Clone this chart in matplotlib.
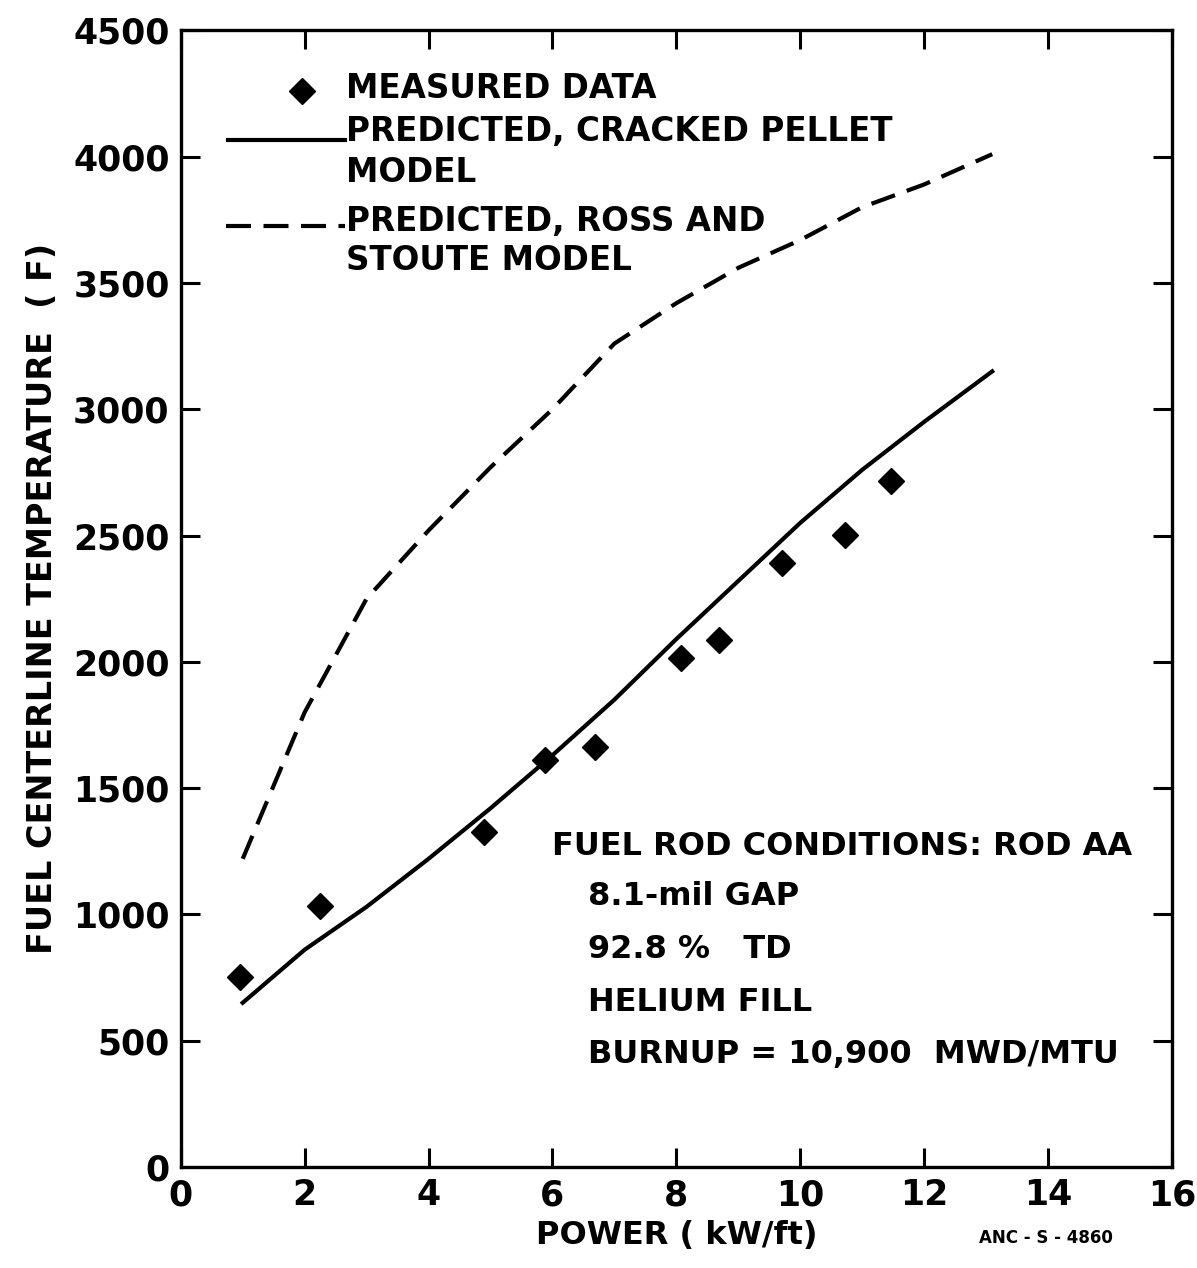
import matplotlib
matplotlib.use('Agg')
import matplotlib.pyplot as plt

# measured fuel centerline temperatures
power_meas = [0.96, 2.24, 4.89, 5.88, 6.68, 8.08, 8.69, 9.71, 10.72, 11.46]
temp_meas = [752, 1033, 1326, 1611, 1662, 2014, 2086, 2390, 2501, 2715]

# predicted, cracked pellet model
power_crack = [1.0, 2.0, 3.0, 4.0, 5.0, 6.0, 7.0, 8.0, 9.0, 10.0, 11.0, 12.0, 13.1]
temp_crack = [650, 860, 1030, 1220, 1420, 1630, 1850, 2090, 2320, 2550, 2760, 2950, 3150]

# predicted, Ross and Stoute model
power_ross = [1.0, 2.0, 3.0, 4.0, 5.0, 6.0, 7.0, 8.0, 9.0, 10.0, 11.0, 12.0, 13.1]
temp_ross = [1220, 1800, 2250, 2520, 2770, 3000, 3260, 3420, 3560, 3670, 3800, 3890, 4010]

conditions = ['8.1-mil GAP', '92.8 %   TD', 'HELIUM FILL', 'BURNUP = 10,900  MWD/MTU']

plt.rcParams['font.family'] = ['DejaVu Sans']
plt.rcParams['font.weight'] = 'bold'

fig = plt.figure(figsize=(11.97, 12.68), dpi=100)
ax = fig.add_axes([0.151, 0.0797, 0.828, 0.8963])

ax.plot(power_crack, temp_crack, '-', color='k', lw=3)
ax.plot(power_ross, temp_ross, '--', color='k', lw=3, dashes=(6, 3))
ax.plot(power_meas, temp_meas, 'D', color='k', ms=13, ls='none')

ax.set_xlim(0, 16)
ax.set_ylim(0, 4500)
ax.set_xticks(range(0, 17, 2))
ax.set_yticks(range(0, 4501, 500))
ax.tick_params(direction='in', length=14, width=2.2, top=True, right=True,
               labelsize=25, pad=8)
for s in ax.spines.values():
    s.set_linewidth(2.4)

ax.set_xlabel('POWER ( kW/ft)', fontsize=23, fontweight='bold', labelpad=6)
ax.set_ylabel('FUEL CENTERLINE TEMPERATURE  ( F)', fontsize=24,
              fontweight='bold', labelpad=10)

# hand-drawn legend
tr = ax.transAxes
fs = 23.5
ax.plot([0.122], [0.947], 'D', color='k', ms=13, transform=tr, clip_on=False)
ax.text(0.167, 0.949, 'MEASURED DATA', transform=tr, fontsize=fs,
        va='center', ha='left')
ax.plot([0.048, 0.166], [0.904, 0.904], '-', color='k', lw=3, transform=tr)
ax.text(0.167, 0.911, 'PREDICTED, CRACKED PELLET', transform=tr,
        fontsize=fs, va='center', ha='left')
ax.text(0.167, 0.875, 'MODEL', transform=tr, fontsize=fs, va='center', ha='left')
ax.plot([0.046, 0.166], [0.828, 0.828], '--', color='k', lw=3,
        dashes=(6, 3), transform=tr)
ax.text(0.167, 0.832, 'PREDICTED, ROSS AND', transform=tr,
        fontsize=fs, va='center', ha='left')
ax.text(0.167, 0.798, 'STOUTE MODEL', transform=tr, fontsize=fs,
        va='center', ha='left')

# fuel rod conditions
ax.text(0.375, 0.282, 'FUEL ROD CONDITIONS: ROD AA', transform=tr,
        fontsize=23, va='center', ha='left')
for i, line in enumerate(conditions):
    ax.text(0.411, 0.238 - i * 0.0465, line, transform=tr, fontsize=23,
            va='center', ha='left')

fig.text(0.874, 0.024, 'ANC - S - 4860', fontsize=12, ha='center', va='center')

fig.savefig('out.png', dpi=100)
